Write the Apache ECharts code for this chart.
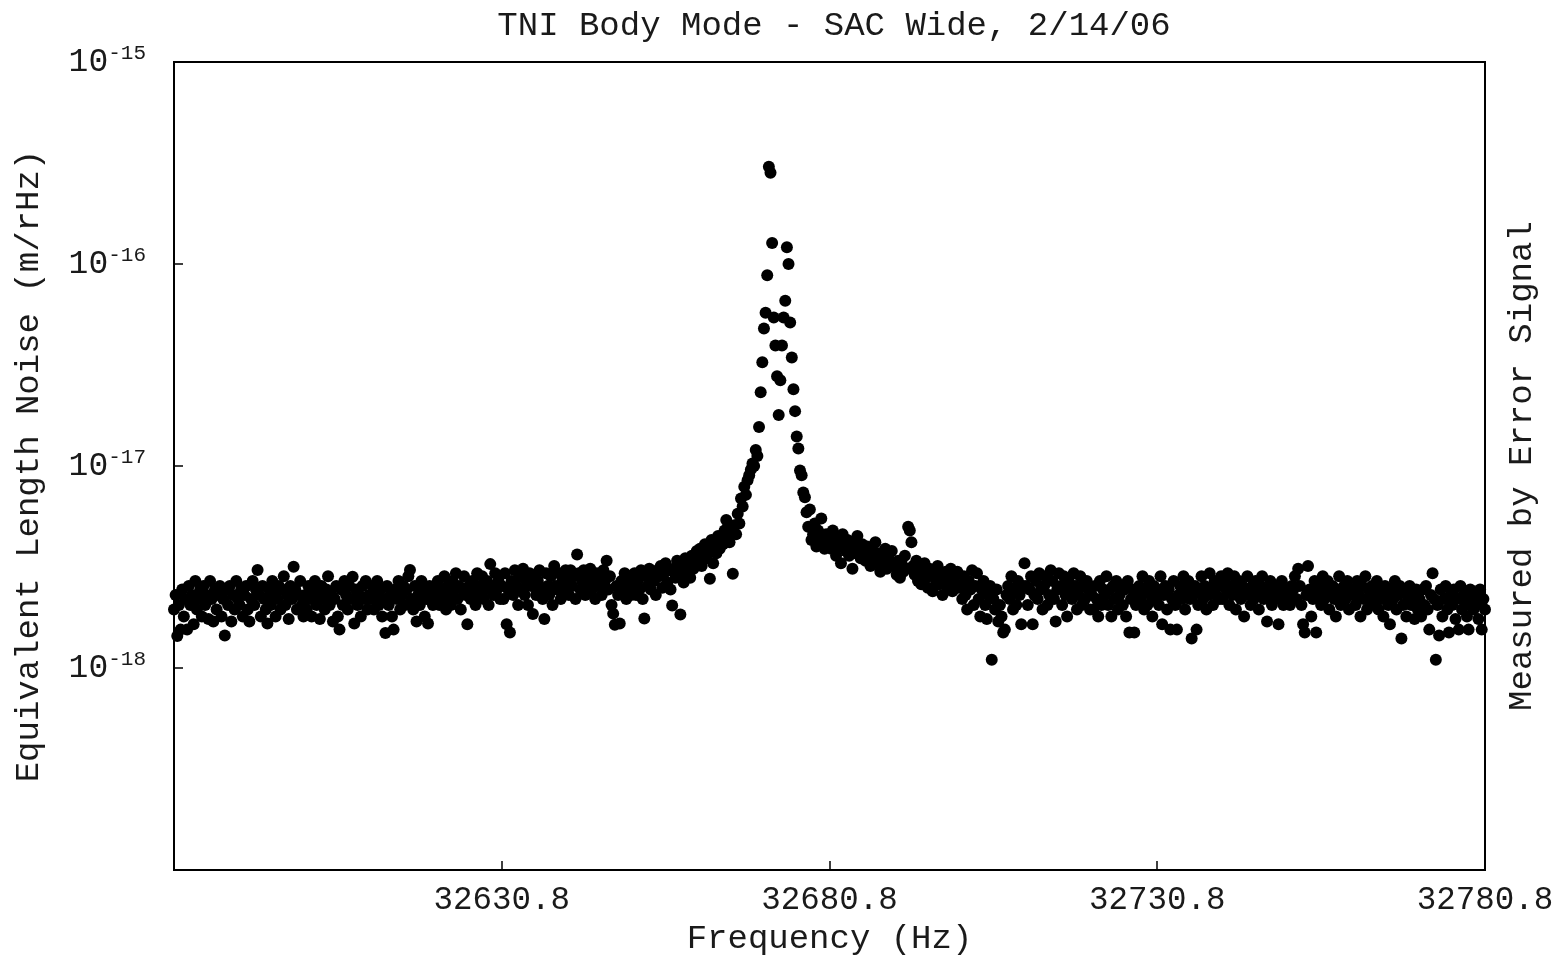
<!DOCTYPE html>
<html>
<head>
<meta charset="utf-8">
<script src="https://cdn.jsdelivr.net/npm/echarts@6/dist/echarts.min.js"></script>
<style>
  html, body { margin: 0; padding: 0; background: #fff; overflow: hidden; }
  #chart { width: 1560px; height: 961px; }
</style>
</head>
<body>
<div id="chart"></div>
<script>
// Spectrum bins: first bin frequency and bin width (Hz)
const freqStart = 32580.8;
const freqStep = 0.25;

// Equivalent length noise per bin, in am/rHz (1e-18 m/rHz), one row per 10 Hz
const asd = [
  1.95,2.3,1.44,2.05,1.55,2.45,1.8,2.2,1.55,2.55,2.05,2.3,1.65,2.7,1.95,2.2,2.45,1.8,2.55,2.05,2.3,1.75,2.7,2.2,1.7,2.45,1.95,2.3,2.55,1.8,2.2,1.45,2.45,2.05,2.55,1.7,2.3,1.95,2.7,2.2,
  2.05,2.45,1.8,2.3,2.55,1.95,1.7,2.2,2.7,2.05,2.45,3.06,2.3,1.8,2.55,2.2,1.95,1.66,2.45,2.05,2.7,2.3,1.8,2.2,2.55,1.95,2.45,2.85,2.05,2.3,1.75,2.55,2.2,3.17,2.45,1.95,2.3,2.7,2.05,1.8,
  2.3,1.95,2.55,2.2,1.8,2.45,2.7,2.05,2.3,1.75,2.55,2.2,1.95,2.45,2.85,2.05,2.3,1.7,2.2,2.55,1.8,1.55,2.45,2.05,2.7,2.3,1.95,2.55,2.2,2.83,1.66,2.45,2.05,2.3,1.8,2.55,2.2,2.7,1.95,2.3,
  2.2,2.55,1.95,2.3,2.7,2.05,2.45,1.8,2.2,1.49,2.55,2.05,2.3,1.8,1.55,2.45,2.2,2.7,1.95,2.3,2.55,2.05,2.45,2.85,3.06,2.2,1.95,2.55,1.7,2.3,2.05,2.7,2.45,1.8,2.2,1.66,2.55,2.3,2.05,2.45,
  2.3,2.7,2.05,2.45,2.2,2.85,1.95,2.55,2.3,2.05,2.7,2.45,2.95,2.2,2.55,1.95,2.45,2.85,2.3,1.65,2.55,2.2,2.7,2.45,2.05,2.95,2.3,2.55,2.85,2.2,2.45,2.7,2.05,3.27,2.55,2.3,2.95,2.45,2.7,2.2,
  2.55,2.2,2.95,1.65,2.45,1.5,2.7,2.3,3.05,2.55,2.05,2.85,2.45,3.1,2.3,2.7,2.05,2.95,2.55,1.85,2.85,2.3,2.7,3.05,2.45,2.2,1.75,2.95,2.55,2.3,2.85,2.05,3.2,2.55,2.45,2.95,2.2,2.7,2.45,3.05,
  2.7,2.3,3.05,2.55,2.85,2.2,3.65,2.95,2.45,2.7,3.05,2.3,2.85,2.55,3.1,2.45,2.7,2.2,2.95,2.55,2.85,2.3,3.05,2.7,3.4,2.45,2.85,2.05,1.86,1.64,2.55,2.3,1.66,2.7,2.45,2.95,2.2,2.55,2.85,2.3,
  2.55,2.95,2.3,2.7,2.45,3.05,2.2,1.76,2.85,2.55,3.1,2.45,2.95,2.7,2.3,3.05,2.85,3.2,2.5,2.95,3.3,2.65,3.05,2.45,2.04,3.1,2.8,3.4,2.9,1.84,3.2,2.65,3.5,3.0,3.3,2.8,3.6,3.1,3.4,3.8,
  3.4,3.9,3.2,3.6,4.1,3.5,3.8,2.77,4.3,3.3,4.0,3.7,4.5,3.9,4.4,4.1,4.8,5.4,4.6,4.2,4.9,2.93,5.1,4.6,5.8,5.2,6.9,6.3,7.9,7.2,8.5,9.0,9.6,10.3,10.0,12.0,11.2,15.6,23.2,32.6,
  47.9,57.4,88,303,283,127,54.3,39.5,27.8,17.9,26.6,39.5,54.3,65.8,121,100,51.3,34.5,24.0,18.7,14.0,12.2,9.5,9.0,7.4,7.0,5.9,5.0,6.1,4.3,4.6,5.2,4.0,4.8,4.4,5.5,4.2,3.9,4.6,4.1,
  4.5,3.9,4.8,4.2,3.6,4.4,4.0,3.3,4.6,4.1,3.8,4.3,3.6,4.0,3.1,4.2,3.7,4.5,3.9,3.5,4.1,3.8,3.4,4.0,3.6,3.2,3.9,3.5,4.2,3.3,3.7,3.0,3.6,3.4,3.9,3.1,3.5,3.3,3.8,3.2,
  3.2,2.9,3.4,2.8,3.3,3.0,3.6,3.1,5.0,4.8,4.2,3.2,2.9,3.4,2.7,3.1,2.6,3.0,3.3,2.8,2.5,3.1,2.9,2.4,3.0,2.7,3.2,2.6,2.9,2.3,2.8,3.0,2.5,2.7,3.1,2.4,2.8,2.6,3.0,2.5,
  2.55,2.2,2.85,2.3,1.95,2.7,2.45,3.05,2.05,2.55,2.95,2.2,1.8,2.45,2.7,2.05,1.75,2.3,2.55,1.1,2.2,1.95,2.45,1.7,2.05,1.8,1.5,1.55,2.3,2.55,2.2,2.85,1.95,2.45,2.05,2.7,2.3,1.65,2.55,3.3,
  2.55,2.05,2.45,2.85,1.65,2.3,2.7,2.2,2.95,2.45,1.95,2.55,2.85,2.05,2.3,3.05,2.7,2.2,1.7,2.45,2.95,2.55,2.05,2.85,2.3,1.8,2.7,2.45,2.2,2.95,2.55,1.95,2.3,2.85,2.05,2.55,2.2,2.7,2.45,1.95,
  2.3,1.95,2.55,2.2,1.8,2.7,2.05,2.45,2.3,2.85,2.05,2.45,1.8,2.55,2.2,2.7,1.95,2.3,2.55,2.05,2.45,1.8,2.7,1.5,2.2,2.45,1.5,2.05,2.3,2.55,2.2,2.85,1.95,2.45,2.05,2.7,2.3,1.8,2.55,2.2,
  2.45,2.05,2.85,1.65,2.3,2.55,1.95,2.45,1.55,2.2,2.7,2.05,1.55,2.3,2.55,2.2,2.85,1.95,2.45,2.7,2.2,1.4,2.3,2.55,1.55,2.05,2.45,2.85,2.2,2.55,1.95,2.3,2.95,2.45,2.05,2.7,2.3,2.55,2.2,2.85,
  2.2,2.7,2.45,2.95,2.05,2.55,2.3,2.85,1.95,2.45,2.7,2.2,2.55,1.8,2.3,2.85,2.45,2.05,2.55,2.2,2.7,2.3,1.95,2.55,2.85,2.2,2.45,1.7,2.3,2.7,2.05,2.55,2.2,2.45,1.65,2.3,2.7,2.05,2.45,2.2,
  2.3,2.05,2.55,2.45,2.85,2.2,3.1,2.55,2.05,1.65,1.5,2.3,3.2,2.45,1.8,2.2,2.7,1.5,2.3,2.55,2.05,2.85,2.2,2.45,2.7,1.95,2.3,2.55,2.2,1.8,2.45,2.85,2.05,2.3,2.55,2.2,2.7,1.95,2.45,2.3,
  2.45,2.05,2.7,2.3,1.8,2.55,2.2,2.85,1.95,2.45,2.2,2.55,2.05,2.3,2.7,1.95,2.45,2.2,1.8,2.55,2.3,2.05,1.65,2.45,2.2,2.7,1.95,2.3,2.55,1.4,2.05,2.45,1.8,2.2,2.55,2.05,2.3,1.75,2.45,1.95,
  2.2,1.8,2.45,2.05,2.55,1.95,1.55,2.3,2.95,2.2,1.1,2.05,1.45,2.45,1.8,2.2,2.55,1.95,1.5,2.3,2.05,2.45,1.75,2.2,1.55,2.55,1.95,2.3,2.05,1.8,1.55,2.45,2.2,1.95,2.3,2.05,1.75,2.45,1.55,2.2,
  1.95
];

// Axis ranges and tick positions
const xMin = 32580.8;
const xMax = 32780.8;
const xTickValues = [32630.8, 32680.8, 32730.8, 32780.8];
const yMin = 1e-19;
const yMax = 1e-15;

const titleText = 'TNI Body Mode - SAC Wide, 2/14/06';
const xName = 'Frequency (Hz)';
const yName = 'Equivalent Length Noise (m/rHz)';
const y2Name = 'Measured by Error Signal';

const points = asd.map((v, i) => [freqStart + i * freqStep, v * 1e-18]);

const mono = '"Liberation Mono", "DejaVu Sans Mono", monospace';
const ink = '#1a1a1a';

const chart = echarts.init(document.getElementById('chart'), null, { renderer: 'canvas', width: 1560, height: 961 });
chart.setOption({
  backgroundColor: '#fff',
  animation: false,
  title: {
    text: titleText,
    left: 829,
    textAlign: 'center',
    top: 4,
    textStyle: { fontFamily: mono, fontSize: 34, fontWeight: 'normal', color: ink }
  },
  grid: {
    left: 174, top: 62, width: 1311, height: 814,
    show: true, borderColor: '#000', borderWidth: 2, backgroundColor: 'transparent'
  },
  xAxis: {
    type: 'value',
    min: xMin,
    max: xMax,
    name: xName,
    nameLocation: 'middle',
    nameGap: 44,
    nameTextStyle: { fontFamily: mono, fontSize: 34, color: ink },
    axisLine: { show: true, lineStyle: { color: '#000', width: 2 } },
    axisTick: { show: true, inside: true, length: 9, customValues: xTickValues, lineStyle: { color: '#000', width: 1.5 } },
    axisLabel: {
      customValues: xTickValues,
      formatter: v => Number(v).toFixed(1),
      margin: 14,
      fontFamily: mono, fontSize: 32.5, color: ink
    },
    splitLine: { show: false }
  },
  yAxis: [
    {
      type: 'log',
      logBase: 10,
      min: yMin,
      max: yMax,
      name: yName,
      nameLocation: 'middle',
      nameRotate: 90,
      nameGap: 128,
      nameTextStyle: { fontFamily: mono, fontSize: 34, color: ink },
      axisLine: { show: true, lineStyle: { color: '#000', width: 2 } },
      axisTick: { show: true, inside: true, length: 9, lineStyle: { color: '#000', width: 1.5 } },
      minorTick: { show: false },
      splitLine: { show: false },
      axisLabel: {
        margin: 28,
        formatter: v => {
          const e = Math.round(Math.log10(v));
          if (e <= -19) return '';
          return '{b|10}{e|' + e + '}';
        },
        rich: {
          b: { fontFamily: mono, fontSize: 33, color: ink },
          e: { fontFamily: mono, fontSize: 21, color: ink, verticalAlign: 'bottom', padding: [0, 0, 17, 0] }
        }
      }
    },
    {
      type: 'log',
      logBase: 10,
      min: yMin,
      max: yMax,
      position: 'right',
      name: y2Name,
      nameLocation: 'middle',
      nameRotate: 90,
      nameGap: 20,
      nameTextStyle: { fontFamily: mono, fontSize: 34, color: ink },
      axisLine: { show: true, lineStyle: { color: '#000', width: 2 } },
      axisTick: { show: false },
      axisLabel: { show: false },
      splitLine: { show: false },
      minorTick: { show: false }
    }
  ],
  series: [{
    type: 'scatter',
    yAxisIndex: 0,
    data: points,
    symbol: 'circle',
    symbolSize: 12,
    itemStyle: { color: '#000', opacity: 1 },
    silent: true
  }]
});
</script>
</body>
</html>
